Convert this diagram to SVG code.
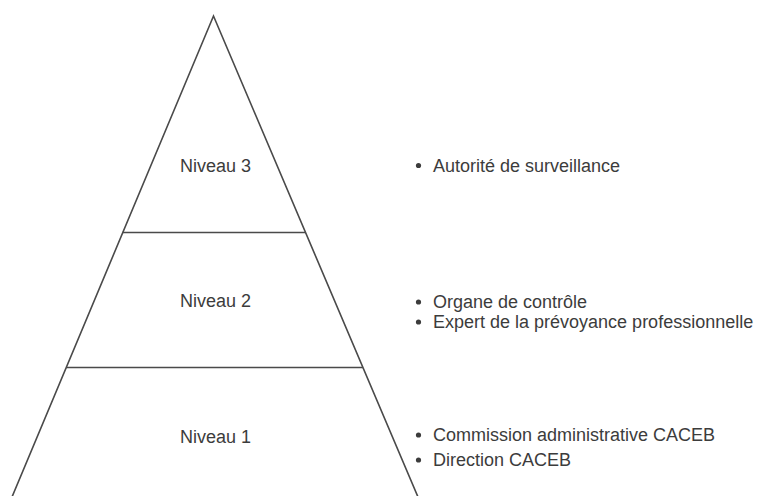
<svg xmlns="http://www.w3.org/2000/svg" width="758" height="496" viewBox="0 0 758 496">
<style>
.edge{stroke:#4a4a4a;stroke-width:1.6;fill:none}
.lvl{font-family:"Liberation Sans",Arial,sans-serif;font-size:18px;fill:#3c3c3c}
.item{font-family:"Liberation Sans",Arial,sans-serif;font-size:18px;fill:#3c3c3c}
.dot{fill:#3c3c3c}
</style>
<rect width="758" height="496" fill="#ffffff"/>
<g id="connectors">
<path class="edge" d="M12,497 L213.5,16 L418,497"/>
<line class="edge" x1="122.5" y1="232.5" x2="305.5" y2="232.5"/>
<line class="edge" x1="66" y1="367.5" x2="363" y2="367.5"/>
</g>
<g id="level3">
<text class="lvl" x="180" y="171.5">Niveau 3</text>
<circle class="dot" cx="418.5" cy="165.5" r="2.6"/>
<text class="item" x="433" y="171.5">Autorité de surveillance</text>
</g>
<g id="level2">
<text class="lvl" x="180" y="306.5">Niveau 2</text>
<circle class="dot" cx="418.5" cy="302" r="2.6"/>
<text class="item" x="433" y="308">Organe de contrôle</text>
<circle class="dot" cx="418.5" cy="322" r="2.6"/>
<text class="item" x="433" y="328">Expert de la prévoyance professionnelle</text>
</g>
<g id="level1">
<text class="lvl" x="180" y="442.5">Niveau 1</text>
<circle class="dot" cx="418.5" cy="435" r="2.6"/>
<text class="item" x="433" y="441">Commission administrative CACEB</text>
<circle class="dot" cx="418.5" cy="460" r="2.6"/>
<text class="item" x="433" y="466">Direction CACEB</text>
</g>
</svg>
